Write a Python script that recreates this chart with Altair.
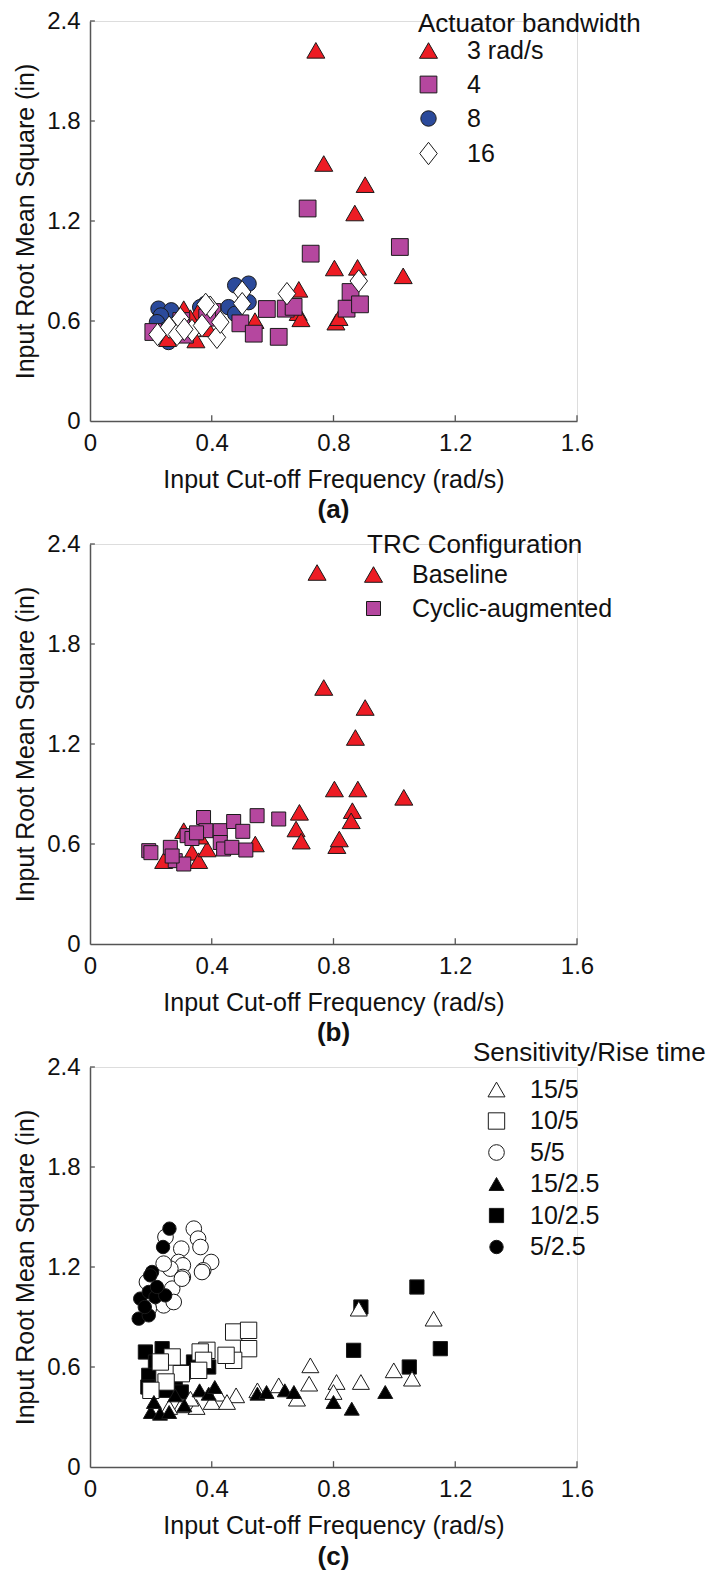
import altair as alt
import pandas as pd

FONT = "Liberation Sans"
AXIS_COLOR = "#555555"
TXT = "#111111"

# ---------------- Panel (a): Actuator bandwidth ----------------
a_bw_order = ["3 rad/s", "4", "8", "16"]
a3_x = [0.742, 0.768, 0.904, 0.870, 0.803, 0.879, 1.029, 0.686, 0.684, 0.693, 0.808, 0.818, 0.858, 0.542, 0.308, 0.354, 0.255, 0.348, 0.389, 0.330]
a3_y = [2.224, 1.545, 1.418, 1.248, 0.918, 0.922, 0.871, 0.790, 0.650, 0.613, 0.593, 0.620, 0.760, 0.602, 0.674, 0.652, 0.494, 0.486, 0.553, 0.620]
a4_x = [0.715, 0.725, 1.018, 0.856, 0.843, 0.887, 0.581, 0.643, 0.669, 0.494, 0.538, 0.620, 0.208, 0.312, 0.300, 0.402, 0.385]
a4_y = [1.275, 1.004, 1.044, 0.774, 0.674, 0.700, 0.672, 0.674, 0.685, 0.586, 0.524, 0.505, 0.534, 0.518, 0.600, 0.654, 0.620]
a8_x = [0.225, 0.267, 0.233, 0.220, 0.258, 0.240, 0.477, 0.521, 0.521, 0.455, 0.477, 0.379, 0.362, 0.250]
a8_y = [0.674, 0.664, 0.633, 0.593, 0.474, 0.520, 0.814, 0.824, 0.713, 0.683, 0.643, 0.703, 0.683, 0.550]
a16_x = [0.222, 0.260, 0.286, 0.335, 0.368, 0.395, 0.380, 0.417, 0.428, 0.500, 0.500, 0.647, 0.883, 0.297, 0.310]
a16_y = [0.519, 0.563, 0.519, 0.543, 0.573, 0.683, 0.700, 0.502, 0.593, 0.774, 0.704, 0.764, 0.840, 0.614, 0.550]

# ---------------- Panel (b): TRC configuration ----------------
b_order = ["Baseline", "Cyclic-augmented"]
b_base_x = [0.746, 0.768, 0.904, 0.872, 0.803, 0.880, 1.031, 0.688, 0.677, 0.694, 0.811, 0.819, 0.862, 0.858, 0.543, 0.308, 0.242, 0.335, 0.357, 0.385, 0.360]
b_base_y = [2.229, 1.539, 1.419, 1.239, 0.930, 0.930, 0.880, 0.790, 0.690, 0.617, 0.590, 0.630, 0.800, 0.739, 0.600, 0.680, 0.500, 0.550, 0.500, 0.570, 0.647]
b_cyc_x = [0.193, 0.200, 0.264, 0.280, 0.308, 0.319, 0.335, 0.373, 0.381, 0.428, 0.428, 0.439, 0.472, 0.466, 0.502, 0.512, 0.549, 0.620, 0.270, 0.350]
b_cyc_y = [0.560, 0.548, 0.580, 0.500, 0.480, 0.650, 0.633, 0.759, 0.680, 0.680, 0.609, 0.570, 0.735, 0.580, 0.676, 0.564, 0.770, 0.750, 0.528, 0.667]

# ---------------- Panel (c): Sensitivity / Rise time ----------------
c_order = ["15/5", "10/5", "5/5", "15/2.5", "10/2.5", "5/2.5"]
c155_x = [1.129, 0.883, 0.724, 0.998, 1.058, 0.890, 0.810, 0.720, 0.800, 0.680, 0.620, 0.550, 0.480, 0.420, 0.400, 0.350, 0.300, 0.260, 0.330, 0.450]
c155_y = [0.89, 0.95, 0.61, 0.58, 0.53, 0.51, 0.51, 0.50, 0.45, 0.41, 0.49, 0.46, 0.43, 0.44, 0.39, 0.36, 0.37, 0.36, 0.41, 0.39]
c1525_x = [0.200, 0.230, 0.260, 0.310, 0.360, 0.390, 0.410, 0.550, 0.580, 0.640, 0.670, 0.800, 0.860, 0.970, 0.210, 0.280]
c1525_y = [0.33, 0.32, 0.33, 0.37, 0.46, 0.44, 0.48, 0.44, 0.45, 0.46, 0.45, 0.39, 0.35, 0.45, 0.39, 0.43]
c105_x = [0.472, 0.521, 0.521, 0.472, 0.447, 0.384, 0.362, 0.373, 0.270, 0.231, 0.357, 0.300, 0.250, 0.200]
c105_y = [0.81, 0.82, 0.71, 0.64, 0.67, 0.70, 0.69, 0.64, 0.66, 0.63, 0.58, 0.56, 0.51, 0.46]
c1025_x = [0.182, 0.237, 0.215, 0.193, 0.308, 0.390, 0.340, 0.280, 0.250, 0.190, 1.074, 0.890, 0.866, 1.151, 1.049, 0.300]
c1025_y = [0.69, 0.71, 0.63, 0.55, 0.57, 0.60, 0.63, 0.51, 0.46, 0.48, 1.08, 0.96, 0.70, 0.71, 0.60, 0.45]
c55_x = [0.341, 0.355, 0.363, 0.300, 0.291, 0.305, 0.398, 0.372, 0.264, 0.242, 0.248, 0.305, 0.270, 0.187, 0.242, 0.275, 0.368, 0.302, 0.193]
c55_y = [1.43, 1.37, 1.32, 1.31, 1.23, 1.21, 1.23, 1.18, 1.19, 1.22, 1.38, 1.14, 1.07, 1.11, 0.97, 0.99, 1.17, 1.13, 0.95]
c525_x = [0.261, 0.240, 0.204, 0.165, 0.193, 0.160, 0.193, 0.215, 0.247, 0.198, 0.220, 0.180]
c525_y = [1.43, 1.32, 1.17, 1.01, 1.05, 0.89, 0.91, 1.02, 1.03, 1.15, 1.08, 0.96]

x_tick_values = [0, 0.4, 0.8, 1.2, 1.6]
y_tick_values = [0, 0.6, 1.2, 1.8, 2.4]

DIAMOND = "M0,-1.6L1.25,0L0,1.6L-1.25,0Z"


def build_df(groups):
    rows = []
    for name, xs, ys in groups:
        for x, y in zip(xs, ys):
            rows.append({"grp": name, "x": x, "y": y})
    return pd.DataFrame(rows)


def panel(groups, order, shapes, fills, sizes, legend_title, lx, ly,
          title_pad, row_pad, sym_off, lab_off, title_size, caption, cap_offset,
          label_expr=None):
    df = build_df(groups)
    xs = alt.Scale(domain=[0, 1.6], nice=False, zero=True)
    ys = alt.Scale(domain=[0, 2.4], nice=False, zero=True)
    xaxis = alt.Axis(values=x_tick_values, format="~g",
                     title="Input Cut-off Frequency (rad/s)",
                     ticks=False, labelPadding=10, titlePadding=12,
                     grid=False, domainColor=AXIS_COLOR, domainWidth=1.5,
                     labelFont=FONT, titleFont=FONT, labelFontSize=24,
                     titleFontSize=25, titleFontWeight="normal",
                     labelColor=TXT, titleColor=TXT, labelFlush=False)
    yaxis = alt.Axis(values=y_tick_values, format="~g",
                     title="Input Root Mean Square (in)",
                     ticks=False, labelPadding=10, titlePadding=8,
                     grid=False, domainColor=AXIS_COLOR, domainWidth=1.5,
                     labelFont=FONT, titleFont=FONT, labelFontSize=24,
                     titleFontSize=25, titleFontWeight="normal",
                     labelColor=TXT, titleColor=TXT, labelFlush=False)
    leg_kwargs = dict(title=legend_title, orient="none", legendX=lx, legendY=ly,
                      titleFont=FONT, labelFont=FONT, titleFontSize=title_size,
                      labelFontSize=25, titleFontWeight="normal",
                      titleColor=TXT, labelColor=TXT, padding=0,
                      titlePadding=title_pad, rowPadding=row_pad,
                      symbolOffset=sym_off, labelOffset=lab_off,
                      symbolStrokeWidth=1, titleLimit=400, labelLimit=400)
    if label_expr:
        leg_kwargs["labelExpr"] = label_expr
    leg = alt.Legend(**leg_kwargs)
    pts = alt.Chart(df).mark_point(filled=True, opacity=1, strokeWidth=1).encode(
        x=alt.X("x:Q", scale=xs, axis=xaxis),
        y=alt.Y("y:Q", scale=ys, axis=yaxis),
        shape=alt.Shape("grp:N", scale=alt.Scale(domain=order, range=shapes), legend=leg),
        fill=alt.Fill("grp:N", scale=alt.Scale(domain=order, range=fills), legend=leg),
        stroke=alt.Stroke("grp:N", scale=alt.Scale(domain=order, range=["#1a1a1a"] * len(order)), legend=leg),
        size=alt.Size("grp:N", scale=alt.Scale(domain=order, range=sizes), legend=leg),
    )
    xt = alt.Chart(pd.DataFrame({"x": x_tick_values[1:]})).mark_rule(
        color=AXIS_COLOR, strokeWidth=1.3).encode(
        x=alt.X("x:Q", scale=xs, axis=xaxis),
        y=alt.datum(0), y2=alt.datum(0.035))
    yt = alt.Chart(pd.DataFrame({"y": y_tick_values[1:]})).mark_rule(
        color=AXIS_COLOR, strokeWidth=1.3).encode(
        y=alt.Y("y:Q", scale=ys, axis=yaxis),
        x=alt.datum(0), x2=alt.datum(0.016))
    return alt.layer(pts, xt, yt).properties(
        width=487, height=400,
        title=alt.TitleParams(caption, orient="bottom", anchor="middle", frame="group",
                              fontSize=26, fontWeight="bold", font=FONT, color=TXT,
                              offset=cap_offset),
    )


pa = panel(
    [("8", a8_x, a8_y), ("3 rad/s", a3_x, a3_y), ("4", a4_x, a4_y), ("16", a16_x, a16_y)],
    a_bw_order,
    ["triangle-up", "square", "circle", DIAMOND],
    ["#ed1c24", "#b5479f", "#2b4a9b", "#ffffff"],
    [324, 196, 225, 361],
    "Actuator bandwidth", 328, -10, 1, 8, -2, 26, 26, "(a)", 5,
)

pb = panel(
    [("Baseline", b_base_x, b_base_y), ("Cyclic-augmented", b_cyc_x, b_cyc_y)],
    b_order,
    ["triangle-up", "square"],
    ["#ed1c24", "#b5479f"],
    [324, 196],
    "TRC Configuration", 277, -12, 4, 8, -6, 26, 26, "(b)", 5,
)

pc = panel(
    [("5/5", c55_x, c55_y), ("5/2.5", c525_x, c525_y),
     ("10/2.5", c1025_x, c1025_y), ("10/5", c105_x, c105_y),
     ("15/5", c155_x, c155_y), ("15/2.5", c1525_x, c1525_y)],
    c_order,
    ["triangle-up", "square", "circle", "triangle-up", "square", "circle"],
    ["#ffffff", "#ffffff", "#ffffff", "#000000", "#000000", "#000000"],
    [289, 180, 225, 289, 180, 225],
    "Sensitivity/Rise time", 383, -27, 11, 5.5, 11, 21, 26, "(c)", 6,
    label_expr="(datum.label == '5/5' || datum.label == '5/2.5') ? '\u00a0' + datum.label : datum.label",
)

chart = alt.vconcat(pa, pb, pc, spacing=123, bounds="flush").resolve_scale(
    shape="independent", fill="independent", stroke="independent", size="independent"
).resolve_legend(
    shape="independent", fill="independent", stroke="independent", size="independent"
).properties(
    padding={"left": 5, "top": 0, "right": 0, "bottom": 0}
).configure_view(stroke=None).configure(font=FONT, background="white")

chart.save("out.html", embed_options={"renderer": "svg", "actions": False})
